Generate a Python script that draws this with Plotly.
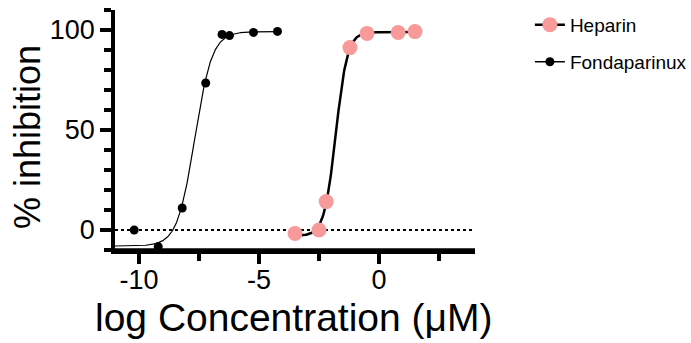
import numpy as np
import plotly.graph_objects as go

# Data (log concentration, % inhibition)
fonda_x = [-10.2, -9.2, -8.2, -7.22, -6.54, -6.23, -5.23, -4.23]
fonda_y = [0.0, -8.3, 11.0, 73.5, 97.8, 97.2, 98.8, 99.3]
hep_x = [-3.5, -2.5, -2.2, -1.21, -0.5, 0.8, 1.5]
hep_y = [-1.7, 0.0, 14.2, 91.2, 98.3, 98.8, 99.2]

# Four-parameter logistic fit parameters (bottom, top, logIC50, hill slope)
fonda_fit = dict(bottom=-8.0, top=99.2, logic50=-7.68, hill=1.2)
hep_fit = dict(bottom=-3.0, top=99.0, logic50=-1.80, hill=1.8)
fonda_curve_range = (-11.0, -4.23)
hep_curve_range = (-3.5, 1.5)

x_ticks = [-10, -5, 0]
y_ticks = [0, 50, 100]

FONT = "Arial, Liberation Sans, Helvetica, sans-serif"
PINK = "#F89A9A"


def four_pl(x, p):
    x = np.asarray(x)
    return p["bottom"] + (p["top"] - p["bottom"]) / (1 + 10 ** ((p["logic50"] - x) * p["hill"]))


fx = np.linspace(*fonda_curve_range, 300)
hx = np.linspace(*hep_curve_range, 300)

fig = go.Figure()

# fitted curves
fig.add_trace(go.Scatter(x=fx, y=four_pl(fx, fonda_fit), mode="lines",
                         line=dict(color="black", width=1.2), showlegend=False,
                         hoverinfo="skip"))
fig.add_trace(go.Scatter(x=hx, y=four_pl(hx, hep_fit), mode="lines",
                         line=dict(color="black", width=2.5), showlegend=False,
                         hoverinfo="skip"))

# data points
fig.add_trace(go.Scatter(x=fonda_x, y=fonda_y, mode="markers",
                         marker=dict(color="black", size=9), showlegend=False,
                         cliponaxis=False))
fig.add_trace(go.Scatter(x=hep_x, y=hep_y, mode="markers",
                         marker=dict(color=PINK, size=15), showlegend=False,
                         cliponaxis=False))

# legend entries
fig.add_trace(go.Scatter(x=[None], y=[None], mode="lines+markers", name="Heparin",
                         line=dict(color="black", width=2.5),
                         marker=dict(color=PINK, size=15), legend="legend"))
fig.add_trace(go.Scatter(x=[None], y=[None], mode="lines+markers", name="Fondaparinux",
                         line=dict(color="black", width=1.5),
                         marker=dict(color="black", size=9), legend="legend2"))

# dotted zero line
fig.add_shape(type="line", xref="paper", x0=0, x1=1, yref="y", y0=0, y1=0,
              line=dict(color="black", width=2, dash="dot"), layer="below")
# x axis baseline extending slightly left of the y axis
fig.add_shape(type="line", xref="paper", x0=-0.024, x1=1, yref="paper", y0=0, y1=0,
              line=dict(color="black", width=3.5), layer="above")

# axis titles
fig.add_annotation(text="log Concentration (μM)", xref="paper", yref="paper",
                   x=0.495, y=-0.283, xanchor="center", yanchor="middle", showarrow=False,
                   font=dict(size=39, family=FONT, color="black"))
fig.add_annotation(text="% inhibition", xref="paper", yref="paper",
                   x=(27 - 115) / 360, y=(250 - 137) / 240, xanchor="center", yanchor="middle",
                   textangle=-90, showarrow=False,
                   font=dict(size=36, family=FONT, color="black"))

fig.update_layout(
    width=691, height=343,
    margin=dict(l=115, r=216, t=10, b=93, autoexpand=False),
    plot_bgcolor="white", paper_bgcolor="white",
    font=dict(family=FONT, color="black"),
    legend=dict(x=1.1525, y=1.0175, xanchor="left", yanchor="top",
                font=dict(size=19, family=FONT), bgcolor="rgba(0,0,0,0)"),
    legend2=dict(x=1.1525, y=0.863, xanchor="left", yanchor="top",
                 font=dict(size=19, family=FONT), bgcolor="rgba(0,0,0,0)"),
    xaxis=dict(range=[-11, 4], showgrid=False, zeroline=False, automargin=False,
               showline=True, linecolor="black", linewidth=3.5,
               tickmode="array", tickvals=x_ticks, ticktext=[str(v) for v in x_ticks],
               ticks="outside", ticklen=10, tickwidth=3.5, tickcolor="black",
               ticklabelstandoff=-7,
               minor=dict(dtick=2.5, tick0=0, ticks="outside", ticklen=7,
                          tickwidth=3.5, tickcolor="black"),
               tickfont=dict(size=27, family=FONT)),
    yaxis=dict(range=[-10, 110], showgrid=False, zeroline=False, automargin=False,
               showline=True, linecolor="black", linewidth=3.5,
               tickmode="array", tickvals=y_ticks, ticktext=[str(v) for v in y_ticks],
               ticks="outside", ticklen=11, tickwidth=3.5, tickcolor="black",
               minor=dict(dtick=10, tick0=0, ticks="outside", ticklen=7,
                          tickwidth=3.5, tickcolor="black"),
               tickfont=dict(size=27, family=FONT)),
)

fig.write_html("out.html", config={"displayModeBar": False},
               post_script="document.body.style.margin='0';")
